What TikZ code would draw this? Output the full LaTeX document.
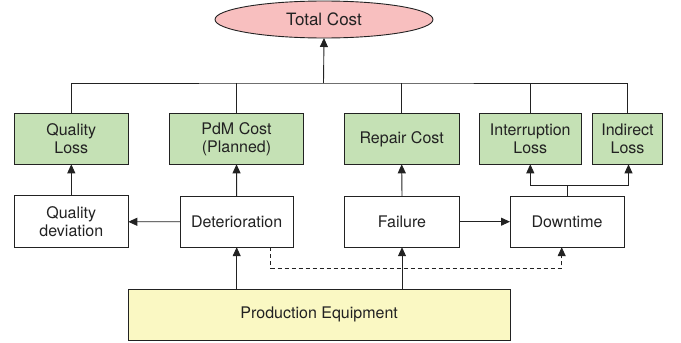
\documentclass[tikz,border=0pt]{standalone}
\usepackage{fontspec}
\setmainfont{TeX Gyre Heros}
\usetikzlibrary{arrows.meta,shapes.geometric}
\definecolor{pinkfill}{HTML}{F8BFBF}
\definecolor{greenfill}{HTML}{C5E1B5}
\definecolor{yellowfill}{HTML}{FAF8C3}
\definecolor{linec}{HTML}{222222}
\begin{document}
\begin{tikzpicture}[x=1pt,y=-1pt,
  every node/.style={font=\fontsize{16}{18}\selectfont, text=linec, align=center, inner sep=0pt, outer sep=0pt},
  box/.style={draw=linec, line width=0.9pt, rectangle, minimum height=51pt},
  costbox/.style={box, fill=greenfill},
  plainbox/.style={box, fill=white},
  conn/.style={draw=linec, line width=0.9pt},
  arr/.style={conn, -{Triangle[length=9pt,width=8pt]}},
  dasharr/.style={arr, dash pattern=on 4pt off 3pt}]
\useasboundingbox (0,0) rectangle (681,343);
% top
\node[ellipse, draw=linec, line width=0.9pt, fill=pinkfill, minimum width=218pt, minimum height=37pt, font=\fontsize{17}{19}\selectfont] (total) at (324,19.5) {Total Cost};
% cost row
\node[costbox, minimum width=114pt] (ql) at (71.3,138.8) {Quality\\Loss};
\node[costbox, minimum width=134.4pt] (pdm) at (236.5,138.8) {PdM Cost\\(Planned)};
\node[costbox, minimum width=114.7pt] (rc) at (401.7,138.8) {Repair Cost};
\node[costbox, minimum width=102.7pt] (il) at (530.3,138.8) {Interruption\\Loss};
\node[costbox, minimum width=69.6pt] (ind) at (627.5,138.8) {Indirect\\Loss};
% event row
\node[plainbox, minimum width=114pt, minimum height=52pt] (qd) at (71.3,221.8) {Quality\\deviation};
\node[plainbox, minimum width=113.3pt] (det) at (236.7,221.7) {Deterioration};
\node[plainbox, minimum width=114.3pt] (fail) at (402,221.7) {Failure};
\node[plainbox, minimum width=114pt] (down) at (567,221.7) {Downtime};
% base
\node[box, fill=yellowfill, minimum width=381.7pt] (pe) at (319.2,314.5) {Production Equipment};
% coordinates
\coordinate (bus) at (323.5,83);
\coordinate (split) at (567,185.7);
\coordinate (dashy) at (0,268.3);
% bus to total
\draw[conn] (ql.north) |- (bus) -| (ind.north);
\draw[conn] (pdm.north) -- (pdm.north |- bus);
\draw[conn] (rc.north) -- (rc.north |- bus);
\draw[conn] (il.north) -- (il.north |- bus);
\draw[arr] (bus) -- (total.south);
% vertical arrows
\draw[arr] (qd.north) -- (ql.south);
\draw[arr] (det.north) -- (pdm.south);
\draw[arr] (fail.north) -- (rc.south);
% horizontal arrows
\draw[arr] (det.west) -- (qd.east);
\draw[arr] (fail.east) -- (down.west);
% downtime split
\draw[conn] (down.north) -- (split);
\draw[arr] (split) -| (il.south);
\draw[arr] (split) -| ([xshift=1pt]ind.south);
% from production equipment
\draw[arr] (pe.north -| det.south) -- (det.south);
\draw[arr] (pe.north -| fail.south) -- (fail.south);
% dashed
\draw[dasharr] ([xshift=34pt]det.south) |- ([xshift=-5.3pt]down.south |- dashy) -- ([xshift=-5.3pt]down.south);
\end{tikzpicture}
\end{document}
